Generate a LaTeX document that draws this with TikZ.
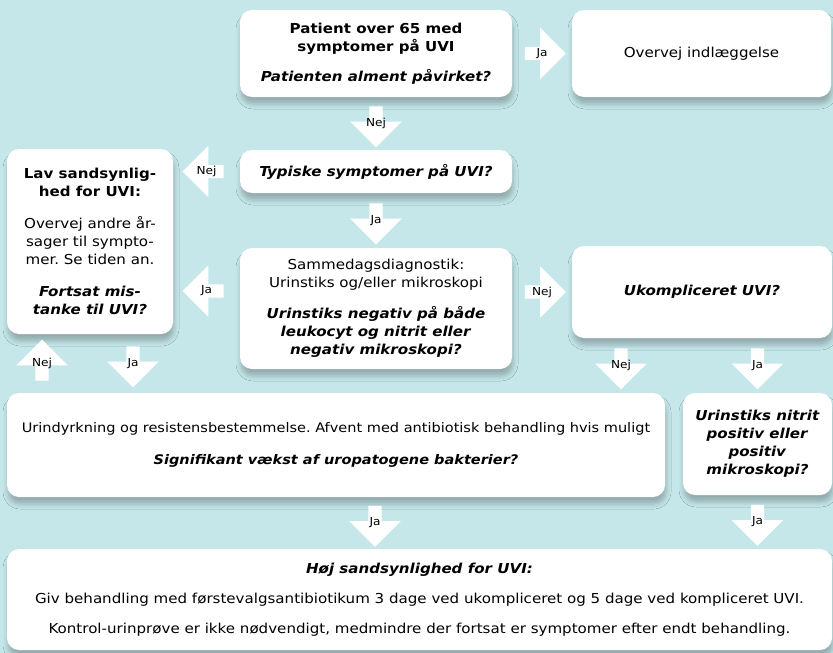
\documentclass[tikz,border=0pt]{standalone}
\usepackage{fontspec}
\setmainfont{DejaVu Sans}[FakeStretch=1.1]
\usetikzlibrary{calc,shapes.arrows,shadows.blur}
\frenchspacing

\definecolor{bgblue}{RGB}{197,231,234}
\newcommand{\spm}[1]{\textbf{\textit{#1}}}

\tikzset{
  box/.style={fill=white, rounded corners=12pt, align=center, inner sep=0pt,
    font=\fontsize{13.7}{18}\selectfont,
    blur shadow={shadow xshift=1pt, shadow yshift=-7pt, shadow blur radius=5pt, shadow opacity=25}},
  blockarrow/.style={single arrow, fill=white, draw=none, inner sep=6.5pt,
    minimum height=41pt, single arrow head extend=19pt,
    label={[font=\fontsize{11}{12}\selectfont, inner sep=0pt]center:#1}},
  toright/.style={blockarrow=#1},
  toleft/.style={blockarrow=#1, shape border rotate=180},
  todown/.style={blockarrow=#1, shape border rotate=270},
  toup/.style={blockarrow=#1, shape border rotate=90},
}

\begin{document}
\begin{tikzpicture}[x=1pt, y=-1pt]
\useasboundingbox (0,0) rectangle (833,653);
\fill[bgblue] (0,0) rectangle (833,653);

% boxes
\node[box, minimum width=272pt, minimum height=87pt] (patient) at (376,53.5)
  {\textbf{Patient over 65 med}\\\textbf{symptomer på UVI}\\[12pt]\spm{Patienten alment påvirket?}};
\node[box, minimum width=259pt, minimum height=87pt] (indlaeg) at (701.5,53.5)
  {Overvej indlæggelse};
\node[box, minimum width=272pt, minimum height=43pt] (typiske) at (376,171.5)
  {\spm{Typiske symptomer på UVI?}};
\node[box, minimum width=166pt, minimum height=185pt] (lav) at (90,241.5)
  {\textbf{Lav sandsynlig-}\\\textbf{hed for UVI:}\\[14pt]Overvej andre år-\\sager til sympto-\\mer. Se tiden an.\\[14pt]\spm{Fortsat mis-}\\\spm{tanke til UVI?}};
\node[box, minimum width=272pt, minimum height=121pt] (sammedag) at (376,308.5)
  {Sammedagsdiagnostik:\\Urinstiks og/eller mikroskopi\\[13pt]\spm{Urinstiks negativ på både}\\\spm{leukocyt og nitrit eller}\\\spm{negativ mikroskopi?}};
\node[box, minimum width=260pt, minimum height=92pt] (ukomp) at (702,292)
  {\spm{Ukompliceret UVI?}};
\node[box, minimum width=658pt, minimum height=104pt, font=\fontsize{13.2}{18}\selectfont] (dyrkning) at (336,445)
  {Urindyrkning og resistensbestemmelse. Afvent med antibiotisk behandling hvis muligt\\[14pt]\spm{Signifikant vækst af uropatogene bakterier?}};
\node[box, minimum width=149pt, minimum height=102pt] (nitrit) at (757.5,444)
  {\spm{Urinstiks nitrit}\\\spm{positiv eller}\\\spm{positiv}\\\spm{mikroskopi?}};
\node[box, minimum width=825pt, minimum height=101pt] (hoej) at (419.5,599.5)
  {\spm{Høj sandsynlighed for UVI:}\\[12pt]Giv behandling med førstevalgsantibiotikum 3 dage ved ukompliceret og 5 dage ved kompliceret UVI.\\[12pt]Kontrol-urinprøve er ikke nødvendigt, medmindre der fortsat er symptomer efter endt behandling.};

% arrows
\node[toright=Ja] (a1) at ($(patient.east)!0.5!(indlaeg.west)$) {};
\node[todown=Nej] (a2) at ($(patient.south)!0.5!(typiske.north)$) {};
\node[toleft=Nej] (a3) at ($(lav.east |- typiske.west)!0.5!(typiske.west)$) {};
\node[todown=Ja] (a4) at ($(typiske.south)!0.5!(sammedag.north)$) {};
\node[toleft=Ja] (a5) at ($(lav.east |- 0,291)!0.5!(sammedag.west |- 0,291)$) {};
\node[toright=Nej] (a6) at ($(sammedag.east |- ukomp.west)!0.5!(ukomp.west)$) {};
\node[todown=Nej] (a7) at ($(621,0 |- ukomp.south)!0.5!(621,0 |- dyrkning.north)$) {};
\node[todown=Ja] (a8) at ($(nitrit.north |- ukomp.south)!0.5!(nitrit.north)$) {};
\node[toup=Nej] (a9) at ($(42,0 |- lav.south)!0.5!(42,0 |- dyrkning.north)$) {};
\node[todown=Ja] (a10) at ($(133,0 |- lav.south)!0.5!(133,0 |- dyrkning.north)$) {};
\node[todown=Ja] (a11) at ($(375,0 |- dyrkning.south)!0.5!(375,0 |- hoej.north)$) {};
\node[todown=Ja] (a12) at ($(nitrit.south)!0.5!(nitrit.south |- hoej.north)$) {};
\end{tikzpicture}
\end{document}
